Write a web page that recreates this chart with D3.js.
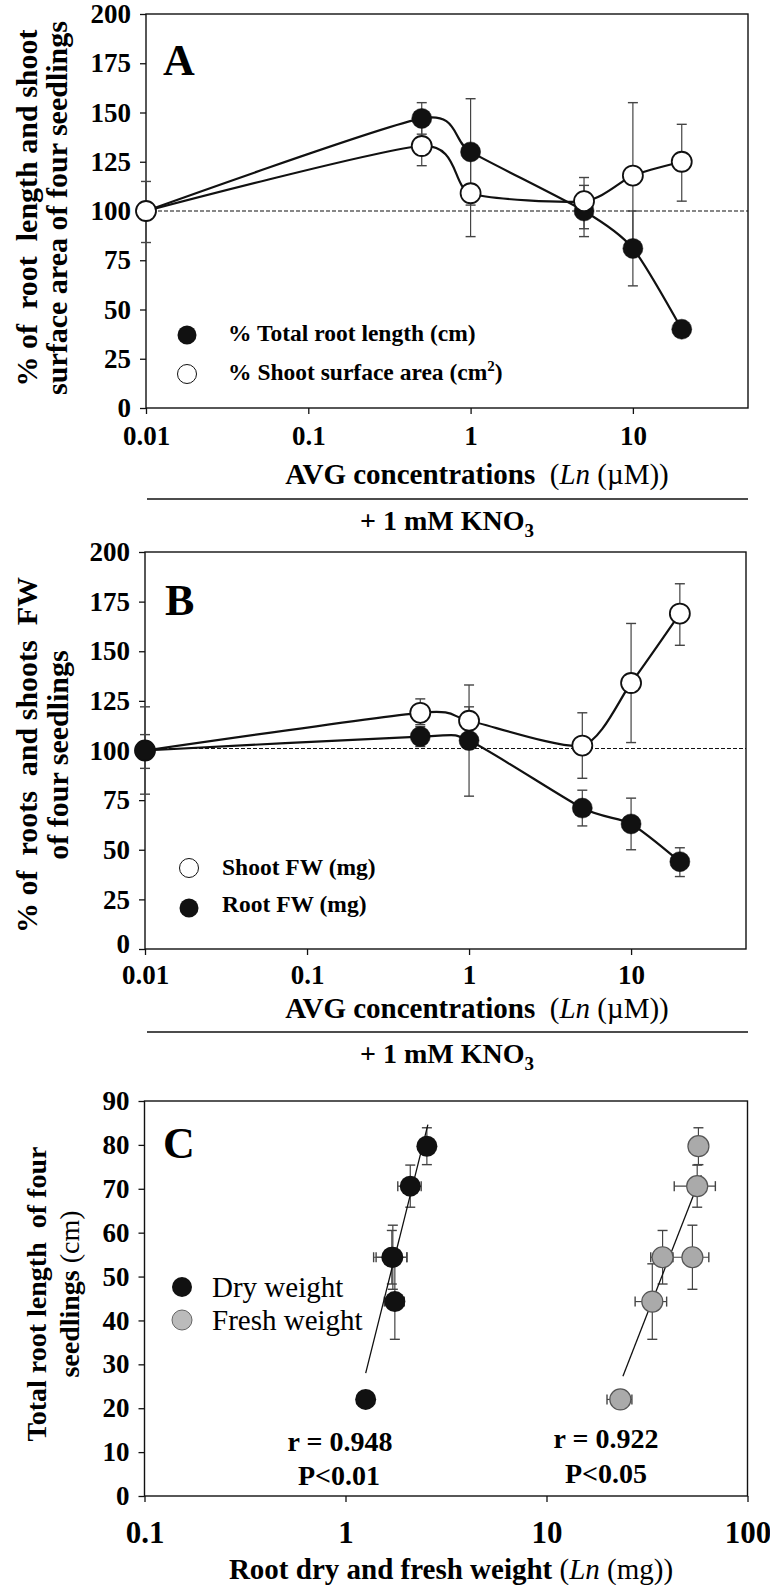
<!DOCTYPE html>
<html>
<head>
<meta charset="utf-8">
<script src="https://cdn.jsdelivr.net/npm/d3@7"></script>
<style>
  body { margin: 0; background: #fff; }
  svg { display: block; }
  text { font-family: "Liberation Serif", "Times New Roman", serif; }
</style>
</head>
<body>
<script>
// ---- values ----
const avgConc = [0.01, 0.5, 1, 5, 10, 20];
const concTicks = [0.01, 0.1, 1, 10];
const pctTicks = [0, 25, 50, 75, 100, 125, 150, 175, 200];

// panel A
const rootLenPct   = [100, 147, 130, 100, 81, 40];
const rootLenLo    = [84, 139, 103, 87, 62, 40];
const rootLenHi    = [115, 155, 157, 113, 100, 40];
const shootAreaPct = [100, 133, 109, 105, 118, 125];
const shootAreaLo  = [100, 123, 87, 91, 81, 105];
const shootAreaHi  = [100, 143, 131, 117, 155, 144];

// panel B
const shootFWPct = [100, 119, 115, 102.5, 134, 169];
const shootFWLo  = [78, 113, 108, 86, 104, 153];
const shootFWHi  = [122, 126, 122, 119, 164, 184];
const rootFWPct  = [100, 107, 105, 71, 63, 44];
const rootFWLo   = [91, 102, 77, 62, 50, 36.5];
const rootFWHi   = [108, 112, 133, 80, 76, 51];

// panel C
const weightTicks = [0.1, 1, 10, 100];
const lenTicks = [0, 10, 20, 30, 40, 50, 60, 70, 80, 90];
const totalRootLen    = [22, 44.3, 54.4, 54.4, 70.6, 79.7];
const totalRootLenErr = [1, 8.6, 6.1, 7.3, 4.8, 4.2];
const dryWeight       = [1.26, 1.76, 1.70, 1.72, 2.10, 2.54];
const dryWeightErr    = [0.05, 0.2, 0.32, 0.3, 0.28, 0.15];
const freshWeight     = [23.3, 33.6, 37.8, 53.2, 56.2, 57.0];
const freshWeightErr  = [3.3, 6, 4.8, 11, 13, 0];
const dryFit   = [[1.26, 28], [2.57, 84.6]];
const freshFit = [[24.0, 27.3], [58.9, 73.1]];

const width = 770, height = 1585;
const svg = d3.select("body").append("svg")
    .attr("width", width)
    .attr("height", height);

const ink = "#111", barInk = "#444";

// frame, axes and ticks of one panel
function setPanel(box, xDomain, yDomain, xTicks, yTicks, opt) {
  const x = d3.scaleLog().domain(xDomain).range([box.left, box.right]);
  const y = d3.scaleLinear().domain(yDomain).range([box.bottom, box.top]);
  const g = svg.append("g");

  g.append("g")
      .attr("transform", `translate(0,${box.bottom})`)
      .call(d3.axisBottom(x).tickValues(xTicks).tickFormat(d => String(d))
        .tickSize(6).tickSizeOuter(0).tickPadding(opt.xPad))
      .call(a => a.select(".domain").remove())
      .attr("font-family", null).attr("font-size", opt.xFont).attr("font-weight", "bold");

  const yAxis = g.append("g")
      .attr("transform", `translate(${box.left},0)`)
      .call(d3.axisLeft(y).tickValues(yTicks).tickSize(6).tickSizeOuter(0).tickPadding(opt.yPad))
      .call(a => a.select(".domain").remove())
      .attr("font-family", null).attr("font-size", opt.yFont).attr("font-weight", "bold");
  // the bottom label sits a little higher so it clears the x tick labels
  if (opt.zeroDy) yAxis.selectAll(".tick text").filter(d => d === 0).attr("dy", opt.zeroDy);

  g.selectAll(".tick line").attr("stroke", ink).attr("stroke-width", 1.3);
  g.selectAll(".tick text").attr("fill", "#000");

  g.append("rect")
      .attr("x", box.left).attr("y", box.top)
      .attr("width", box.right - box.left).attr("height", box.bottom - box.top)
      .attr("fill", "none").attr("stroke", ink).attr("stroke-width", 1.4);
  return {x, y, g};
}

function vBars(g, x, y, xs, lo, hi, cap) {
  xs.forEach((c, i) => {
    if (hi[i] - lo[i] <= 0) return;
    const px = x(c);
    g.append("line").attr("x1", px).attr("x2", px).attr("y1", y(lo[i])).attr("y2", y(hi[i]))
      .attr("stroke", barInk).attr("stroke-width", 1.2);
    [lo[i], hi[i]].forEach(v => g.append("line")
      .attr("x1", px - cap).attr("x2", px + cap).attr("y1", y(v)).attr("y2", y(v))
      .attr("stroke", barInk).attr("stroke-width", 1.4));
  });
}

function hBars(g, x, y, xs, err, ys, cap) {
  xs.forEach((c, i) => {
    if (!err[i]) return;
    const py = y(ys[i]);
    g.append("line").attr("x1", x(c - err[i])).attr("x2", x(c + err[i])).attr("y1", py).attr("y2", py)
      .attr("stroke", barInk).attr("stroke-width", 1.2);
    [c - err[i], c + err[i]].forEach(v => g.append("line")
      .attr("x1", x(v)).attr("x2", x(v)).attr("y1", py - cap).attr("y2", py + cap)
      .attr("stroke", barInk).attr("stroke-width", 1.4));
  });
}

function curve(g, x, y, xs, ys) {
  g.append("path")
      .attr("d", d3.line().curve(d3.curveCardinal.tension(0.3))
        .x((d, i) => x(xs[i])).y(d => y(d))(ys))
      .attr("fill", "none").attr("stroke", ink).attr("stroke-width", 2.2);
}

function dots(g, x, y, xs, ys, open, r) {
  g.selectAll(null).data(ys).join("circle")
      .attr("cx", (d, i) => x(xs[i])).attr("cy", d => y(d)).attr("r", r)
      .attr("fill", open ? "#fff" : ink)
      .attr("stroke", ink).attr("stroke-width", open ? 1.8 : 0.5);
}

function xTitle(g, cx, by, parts, size) {
  const t = g.append("text").attr("x", cx).attr("y", by)
      .attr("font-size", size).attr("font-weight", "bold")
      .attr("text-anchor", "middle").attr("xml:space", "preserve");
  parts.forEach(p => {
    const tp = t.append("tspan").text(p[0]);
    if (p[1]) tp.attr("font-weight", p[1]);
    if (p[2]) tp.attr("font-style", p[2]);
  });
}

function yTitle(g, cy, lines, size) {
  lines.forEach(l => {
    const t = g.append("text")
        .attr("transform", `translate(${l.base},${cy}) rotate(-90)`)
        .attr("font-size", size).attr("font-weight", "bold")
        .attr("text-anchor", "middle").attr("xml:space", "preserve");
    l.parts.forEach(p => {
      const tp = t.append("tspan").text(p[0]);
      if (p[1]) tp.attr("font-weight", p[1]);
    });
  });
}

function kno3(lineY) {
  svg.append("line").attr("x1", 147).attr("x2", 748).attr("y1", lineY).attr("y2", lineY)
      .attr("stroke", ink).attr("stroke-width", 1.6);
  const t = svg.append("text").attr("x", 447).attr("y", lineY + 31)
      .attr("font-size", 28).attr("font-weight", "bold").attr("text-anchor", "middle");
  t.append("tspan").text("+ 1 mM KNO");
  t.append("tspan").text("3").attr("font-size", 19).attr("dy", 7);
}

function refLine(p, v) {
  p.g.append("line").attr("x1", p.x.range()[0]).attr("x2", p.x.range()[1])
      .attr("y1", p.y(v)).attr("y2", p.y(v))
      .attr("stroke", ink).attr("stroke-width", 1.1).attr("stroke-dasharray", "4,2");
}

function letter(g, s, x, y) {
  g.append("text").attr("x", x).attr("y", y).attr("font-size", 44).attr("font-weight", "bold").text(s);
}

const avgTitle = [["AVG concentrations  "], ["(", "normal"], ["Ln", "normal", "italic"], [" (\u00b5M))", "normal"]];

// ---- panel A ----
const A = setPanel({left: 146, right: 748, top: 14, bottom: 408}, [0.01, 51.2], [0, 200],
  concTicks, pctTicks, {xPad: 12, yPad: 9, xFont: 27, yFont: 27});
refLine(A, 100);
vBars(A.g, A.x, A.y, avgConc, rootLenLo, rootLenHi, 5);
vBars(A.g, A.x, A.y, avgConc, shootAreaLo, shootAreaHi, 5);
curve(A.g, A.x, A.y, avgConc, rootLenPct);
curve(A.g, A.x, A.y, avgConc, shootAreaPct);
dots(A.g, A.x, A.y, avgConc, rootLenPct, false, 10);
dots(A.g, A.x, A.y, avgConc, shootAreaPct, true, 10);
letter(A.g, "A", 163, 75);
A.g.append("circle").attr("cx", 187).attr("cy", 335).attr("r", 9.5).attr("fill", ink);
A.g.append("circle").attr("cx", 187).attr("cy", 374).attr("r", 9.5).attr("fill", "#fff").attr("stroke", ink).attr("stroke-width", 1);
A.g.append("text").attr("x", 228).attr("y", 341).attr("font-size", 23.5).attr("font-weight", "bold")
    .text("% Total root length (cm)");
const lgA = A.g.append("text").attr("x", 228).attr("y", 380).attr("font-size", 23.5).attr("font-weight", "bold");
lgA.append("tspan").text("% Shoot surface area (cm");
lgA.append("tspan").text("2").attr("font-size", 15).attr("dy", -9);
lgA.append("tspan").text(")").attr("dy", 9);
xTitle(A.g, 477, 484, avgTitle, 29);
yTitle(A.g, 208, [
  {base: 37, parts: [["% of  root  length and shoot"]]},
  {base: 67, parts: [["surface area of four seedlings"]]}
], 30);
kno3(499);

// ---- panel B ----
const B = setPanel({left: 145, right: 746, top: 552, bottom: 949}, [0.01, 51.2], [0, 200],
  concTicks, pctTicks, {xPad: 10, yPad: 9, xFont: 27, yFont: 27, zeroDy: "0.12em"});
refLine(B, 101);
vBars(B.g, B.x, B.y, avgConc, shootFWLo, shootFWHi, 5);
vBars(B.g, B.x, B.y, avgConc, rootFWLo, rootFWHi, 5);
curve(B.g, B.x, B.y, avgConc, shootFWPct);
curve(B.g, B.x, B.y, avgConc, rootFWPct);
dots(B.g, B.x, B.y, avgConc, shootFWPct, true, 10);
dots(B.g, B.x, B.y, avgConc, rootFWPct, false, 10);
letter(B.g, "B", 165, 615);
B.g.append("circle").attr("cx", 189).attr("cy", 868).attr("r", 9.5).attr("fill", "#fff").attr("stroke", ink).attr("stroke-width", 1);
B.g.append("circle").attr("cx", 189).attr("cy", 908).attr("r", 9.5).attr("fill", ink);
B.g.append("text").attr("x", 222).attr("y", 875).attr("font-size", 23.5).attr("font-weight", "bold").text("Shoot FW (mg)");
B.g.append("text").attr("x", 222).attr("y", 912).attr("font-size", 23.5).attr("font-weight", "bold").text("Root FW (mg)");
xTitle(B.g, 477, 1018, avgTitle, 29);
yTitle(B.g, 755, [
  {base: 37, parts: [["% of  roots  and shoots  FW"]]},
  {base: 68, parts: [["of four seedlings"]]}
], 30);
kno3(1032);

// ---- panel C ----
const C = setPanel({left: 144.5, right: 747.5, top: 1101, bottom: 1496}, [0.1, 100], [0, 90],
  weightTicks, lenTicks, {xPad: 19, yPad: 9, xFont: 31, yFont: 27});
const lenLo = totalRootLen.map((v, i) => v - totalRootLenErr[i]);
const lenHi = totalRootLen.map((v, i) => v + totalRootLenErr[i]);
vBars(C.g, C.x, C.y, dryWeight, lenLo, lenHi, 5);
hBars(C.g, C.x, C.y, dryWeight, dryWeightErr, totalRootLen, 5);
vBars(C.g, C.x, C.y, freshWeight, lenLo, lenHi, 5);
hBars(C.g, C.x, C.y, freshWeight, freshWeightErr, totalRootLen, 5);
[dryFit, freshFit].forEach(f => C.g.append("line")
    .attr("x1", C.x(f[0][0])).attr("y1", C.y(f[0][1]))
    .attr("x2", C.x(f[1][0])).attr("y2", C.y(f[1][1]))
    .attr("stroke", ink).attr("stroke-width", 1.3));
C.g.selectAll(null).data(totalRootLen).join("circle")
    .attr("cx", (d, i) => C.x(dryWeight[i])).attr("cy", d => C.y(d)).attr("r", 10.5)
    .attr("fill", ink);
C.g.selectAll(null).data(totalRootLen).join("circle")
    .attr("cx", (d, i) => C.x(freshWeight[i])).attr("cy", d => C.y(d)).attr("r", 10.5)
    .attr("fill", "#aaa").attr("stroke", "#555").attr("stroke-width", 1.2);
letter(C.g, "C", 163, 1158);
C.g.append("circle").attr("cx", 182).attr("cy", 1287).attr("r", 10).attr("fill", ink);
C.g.append("circle").attr("cx", 182).attr("cy", 1320).attr("r", 10).attr("fill", "#bbb").attr("stroke", "#666").attr("stroke-width", 1);
C.g.append("text").attr("x", 212).attr("y", 1297).attr("font-size", 29).text("Dry weight");
C.g.append("text").attr("x", 212).attr("y", 1330).attr("font-size", 29).text("Fresh weight");
[["r = 0.948", 340, 1451], ["P<0.01", 339, 1485], ["r = 0.922", 606, 1448], ["P<0.05", 606, 1483]]
  .forEach(s => C.g.append("text").attr("x", s[1]).attr("y", s[2]).attr("font-size", 28)
    .attr("font-weight", "bold").attr("text-anchor", "middle").text(s[0]));
xTitle(C.g, 451, 1579, [["Root dry and fresh weight "], ["(", "normal"], ["Ln", "normal", "italic"], [" (mg))", "normal"]], 29);
yTitle(C.g, 1294, [
  {base: 46, parts: [["Total root length  of four"]]},
  {base: 79, parts: [["seedlings ", null], ["(cm)", "normal"]]}
], 28);
</script>
</body>
</html>
